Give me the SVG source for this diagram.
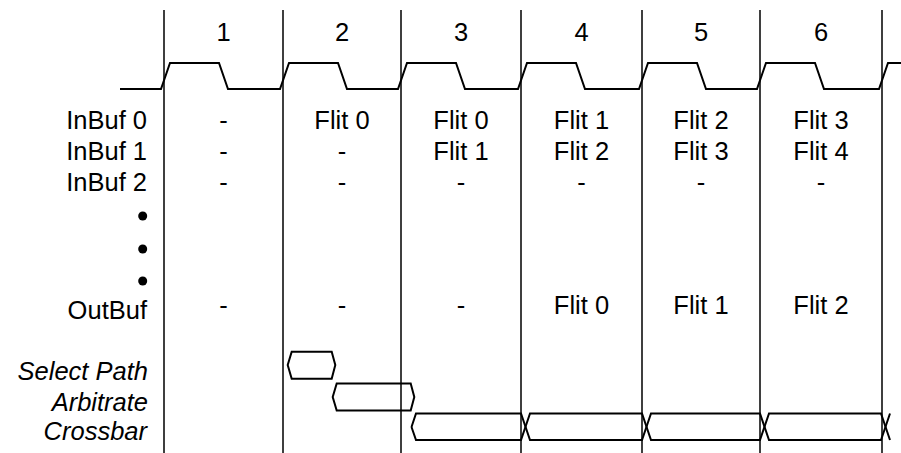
<svg xmlns="http://www.w3.org/2000/svg" width="901" height="453" viewBox="0 0 901 453">
<style>
text{font-family:"Liberation Sans",Arial,sans-serif;font-size:25.5px;fill:#000}
.c{text-anchor:middle}
.l{text-anchor:end}
.i{font-style:italic}
.grid{stroke:#000;stroke-width:1.5;fill:none}
.w{stroke:#000;stroke-width:2;fill:none;stroke-linejoin:miter}
</style>
<rect width="901" height="453" fill="#fff"/>
<g id="grid" class="grid">
<path d="M164,10V453M283,10V453M401,10V453M521,10V453M642,10V453M760,10V453M882,10V453"/>
</g>
<g id="cycles">
<text class="c" x="223.5" y="41">1</text>
<text class="c" x="342" y="41">2</text>
<text class="c" x="461" y="41">3</text>
<text class="c" x="581.5" y="41">4</text>
<text class="c" x="701" y="41">5</text>
<text class="c" x="821" y="41">6</text>
</g>
<g id="clock">
<path class="w" d="M120,89 H161 L170,63 H219 L228,89 H280 L289,63 H338 L347,89 H398 L407,63 H456 L465,89 H518 L527,63 H576 L585,89 H639 L648,63 H697 L706,89 H757 L766,63 H815 L824,89 H879 L888,63 H901"/>
</g>
<g id="labels">
<text class="l" x="147" y="129">InBuf 0</text>
<text class="l" x="147" y="160">InBuf 1</text>
<text class="l" x="147" y="191">InBuf 2</text>
<circle cx="142.7" cy="216" r="4.5"/>
<circle cx="142.7" cy="249" r="4.5"/>
<circle cx="142.7" cy="281" r="4.5"/>
<text class="l" x="147" y="319">OutBuf</text>
<text class="l i" x="148" y="380">Select Path</text>
<text class="l i" x="148" y="411">Arbitrate</text>
<text class="l i" x="147" y="440">Crossbar</text>
</g>
<g id="inbuf0">
<text class="c" x="223.5" y="129">-</text>
<text class="c" x="342" y="129">Flit 0</text>
<text class="c" x="461" y="129">Flit 0</text>
<text class="c" x="581.5" y="129">Flit 1</text>
<text class="c" x="701" y="129">Flit 2</text>
<text class="c" x="821" y="129">Flit 3</text>
</g>
<g id="inbuf1">
<text class="c" x="223.5" y="160">-</text>
<text class="c" x="342" y="160">-</text>
<text class="c" x="461" y="160">Flit 1</text>
<text class="c" x="581.5" y="160">Flit 2</text>
<text class="c" x="701" y="160">Flit 3</text>
<text class="c" x="821" y="160">Flit 4</text>
</g>
<g id="inbuf2">
<text class="c" x="223.5" y="191">-</text>
<text class="c" x="342" y="191">-</text>
<text class="c" x="461" y="191">-</text>
<text class="c" x="581.5" y="191">-</text>
<text class="c" x="701" y="191">-</text>
<text class="c" x="821" y="191">-</text>
</g>
<g id="outbuf">
<text class="c" x="223.5" y="314">-</text>
<text class="c" x="342" y="314">-</text>
<text class="c" x="461" y="314">-</text>
<text class="c" x="581.5" y="314">Flit 0</text>
<text class="c" x="701" y="314">Flit 1</text>
<text class="c" x="821" y="314">Flit 2</text>
</g>
<g id="select-path">
<polygon class="w" points="287.7,365 291.7,351.7 331.7,351.7 335.3,365 331.7,378.7 291.7,378.7"/>
</g>
<g id="arbitrate">
<polygon class="w" points="332.7,397 336.7,383.5 410.7,383.5 414.3,397 410.7,410.5 336.7,410.5"/>
</g>
<g id="crossbar">
<path class="w" d="M411.5,427 L416,413.5 H521 L530,440 H642 L651,413.5 H760 L769,440 H881 L890,413.5"/>
<path class="w" d="M411.5,427 L416,440 H521 L530,413.5 H642 L651,440 H760 L769,413.5 H881 L890,440"/>
</g>
</svg>
